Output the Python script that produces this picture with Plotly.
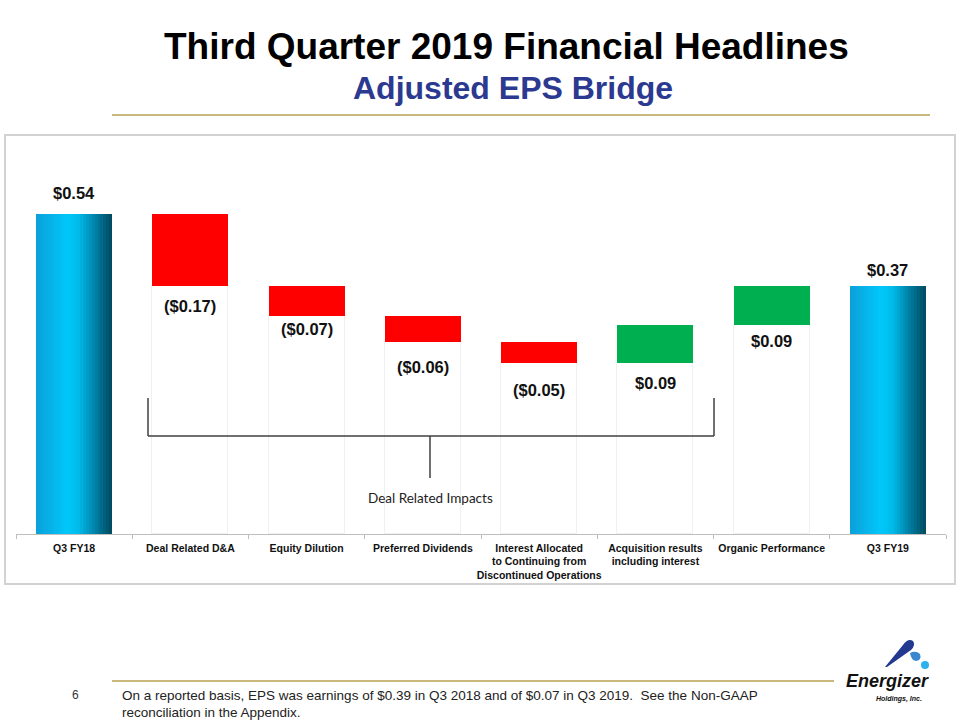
import plotly.graph_objects as go

# ---------------- data ----------------
categories = [
    "Q3 FY18",
    "Deal Related D&A",
    "Equity Dilution",
    "Preferred Dividends",
    "Interest Allocated<br>to Continuing from<br>Discontinued Operations",
    "Acquisition results<br>including interest",
    "Organic Performance",
    "Q3 FY19",
]
measures = ["total", "relative", "relative", "relative", "relative", "relative", "relative", "total"]
values = [0.54, -0.17, -0.07, -0.06, -0.05, 0.09, 0.09, 0.37]
value_labels = ["$0.54", "($0.17)", "($0.07)", "($0.06)", "($0.05)", "$0.09", "$0.09", "$0.37"]

title_text = "Third Quarter 2019 Financial Headlines"
subtitle_text = "Adjusted EPS Bridge"
bracket_text = "Deal Related Impacts"
footnote_lines = [
    "On a reported basis, EPS was earnings of $0.39 in Q3 2018 and of $0.07 in Q3 2019.  See the Non-GAAP",
    "reconciliation in the Appendix.",
]
page_number = "6"

# ---------------- style ----------------
W, H = 960, 720
PL, PR, PT, PB = 16, 946, 140, 534          # plot area in page pixels
PX_PER_UNIT = 425.0
ZERO_PX = 443.5
Y_FLOOR = -(PB - ZERO_PX) / PX_PER_UNIT
Y_TOP = (ZERO_PX - PT) / PX_PER_UNIT
BAR_W = 0.654
RED, GREEN = "#FF0000", "#00B050"
GOLD = "#C9B97C"
LABEL_SHIFT = [21, -20, -13, -25, -27, -20, -16, 16]
ARIAL = "Liberation Sans, Arial, sans-serif"


def px(x):
    return (x - PL) / (PR - PL)


def py(y):
    return (PB - y) / (PB - PT)


# ---------------- waterfall geometry from data ----------------
starts, ends = [], []
running = 0.0
for m, v in zip(measures, values):
    if m == "total":
        starts.append(Y_FLOOR)
        ends.append(v)
        running = v
    else:
        starts.append(running)
        running = running + v
        ends.append(running)

rel_idx = [i for i, m in enumerate(measures) if m == "relative"]
tot_idx = [i for i, m in enumerate(measures) if m == "total"]

fig = go.Figure()

# faint "invisible" support bars under floating bars
fig.add_trace(go.Bar(
    x=[categories[i] for i in rel_idx],
    base=[Y_FLOOR for i in rel_idx],
    y=[min(starts[i], ends[i]) - Y_FLOOR for i in rel_idx],
    width=BAR_W,
    marker=dict(color="rgba(255,255,255,0)", line=dict(color="#F0F0F0", width=1)),
    hoverinfo="skip", showlegend=False,
))

# floating delta bars
fig.add_trace(go.Bar(
    x=[categories[i] for i in rel_idx],
    base=[starts[i] for i in rel_idx],
    y=[values[i] for i in rel_idx],
    width=BAR_W,
    marker=dict(color=[RED if values[i] < 0 else GREEN for i in rel_idx], line=dict(width=0)),
    showlegend=False,
))

# gradient total bars (vertical slices)
stops = [(0.0, (12, 160, 218)), (0.42, (0, 200, 250)), (0.55, (0, 188, 236)),
         (0.78, (0, 128, 165)), (1.0, (0, 72, 94))]


def grad(t):
    for (t0, c0), (t1, c1) in zip(stops[:-1], stops[1:]):
        if t0 <= t <= t1:
            f = (t - t0) / (t1 - t0) if t1 > t0 else 0
            return "rgb(%d,%d,%d)" % tuple(round(a + (b - a) * f) for a, b in zip(c0, c1))
    return "rgb(%d,%d,%d)" % stops[-1][1]


N = 26
sw = BAR_W / N
for k in range(N):
    fig.add_trace(go.Bar(
        x=[categories[i] for i in tot_idx],
        base=[Y_FLOOR for i in tot_idx],
        y=[values[i] - Y_FLOOR for i in tot_idx],
        width=sw * 1.35 if k < N - 1 else sw,
        offset=-BAR_W / 2 + k * sw,
        marker=dict(color=grad((k + 0.5) / N), line=dict(width=0)),
        hoverinfo="skip", showlegend=False,
    ))

annotations = []
for i, lab in enumerate(value_labels):
    yref_val = ends[i] if measures[i] == "total" else min(starts[i], ends[i])
    annotations.append(dict(
        x=categories[i], y=yref_val, xref="x", yref="y", text=lab, showarrow=False,
        yshift=LABEL_SHIFT[i], yanchor="middle",
        font=dict(family=ARIAL, size=16.5, color="#111111", weight="bold"),
    ))

# titles
annotations.append(dict(x=px(506), y=py(47), xref="paper", yref="paper", text=title_text,
                        showarrow=False, xanchor="center", yanchor="middle",
                        font=dict(family=ARIAL, size=37, color="#000000", weight="bold")))
annotations.append(dict(x=px(513), y=py(88), xref="paper", yref="paper", text=subtitle_text,
                        showarrow=False, xanchor="center", yanchor="middle",
                        font=dict(family=ARIAL, size=32, color="#2B3990", weight="bold")))
# bracket label
annotations.append(dict(x=px(430), y=py(498), xref="paper", yref="paper", text=bracket_text,
                        showarrow=False, xanchor="center", yanchor="middle",
                        font=dict(family="Lato, Carlito, Calibri, sans-serif", size=13.5, color="#222222")))
# footer
annotations.append(dict(x=px(75), y=py(695), xref="paper", yref="paper", text=page_number,
                        showarrow=False, xanchor="center", yanchor="middle",
                        font=dict(family=ARIAL, size=12, color="#333333")))
for j, ln in enumerate(footnote_lines):
    annotations.append(dict(x=px(120), y=py(695 + 17 * j), xref="paper", yref="paper", text=ln,
                            showarrow=False, xanchor="left", yanchor="middle",
                            font=dict(family=ARIAL, size=13.5, color="#222222")))
# logo text
annotations.append(dict(x=px(887), y=py(681), xref="paper", yref="paper",
                        text="<b><i>Energizer</i></b>", showarrow=False,
                        xanchor="center", yanchor="middle",
                        font=dict(family=ARIAL, size=18, color="#111111")))
annotations.append(dict(x=px(899), y=py(699), xref="paper", yref="paper",
                        text="<b><i>Holdings, Inc.</i></b>", showarrow=False,
                        xanchor="center", yanchor="middle",
                        font=dict(family=ARIAL, size=7, color="#111111")))


def hline(x0, x1, y, color, width):
    return dict(type="line", xref="paper", yref="paper", x0=px(x0), x1=px(x1),
                y0=py(y), y1=py(y), line=dict(color=color, width=width))


def vline(x, y0, y1, color, width):
    return dict(type="line", xref="paper", yref="paper", x0=px(x), x1=px(x),
                y0=py(y0), y1=py(y1), line=dict(color=color, width=width))


def path(points, close=True):
    s = ""
    for cmd, pts in points:
        s += cmd + " " + " ".join("%.5f %.5f" % (px(a), py(b)) for a, b in pts) + " "
    return s + ("Z" if close else "")


shapes = [
    # chart frame
    dict(type="rect", xref="paper", yref="paper", x0=px(5), x1=px(955), y0=py(135), y1=py(584),
         line=dict(color="#D2D2D2", width=2), layer="below"),
    # gold rules
    hline(112, 930, 115, GOLD, 2),
    hline(112, 834, 681, GOLD, 2),
    # bracket
    hline(148, 714, 436, "#404040", 1.5),
    vline(148, 398, 436, "#404040", 1.5),
    vline(714, 398, 436, "#404040", 1.5),
    vline(430, 436, 478, "#404040", 1.5),
    # logo marks
    dict(type="path", xref="paper", yref="paper",
         path=path([("M", [(885, 667)]), ("L", [(903, 645)]), ("Q", [(908, 638), (913, 641)]),
                    ("Q", [(916, 645), (911, 650)]), ("L", [(887, 667)])]),
         fillcolor="#22398F", line=dict(width=0)),
    dict(type="path", xref="paper", yref="paper",
         path=path([("M", [(910, 653)]), ("Q", [(916, 650), (920, 654)]),
                    ("Q", [(922, 660), (916, 661)]), ("Q", [(911, 660), (910, 653)])]),
         fillcolor="#3A86CF", line=dict(width=0)),
    dict(type="circle", xref="paper", yref="paper", x0=px(921), x1=px(929), y0=py(661), y1=py(669),
         fillcolor="#2DB2EE", line=dict(width=0)),
]

fig.update_layout(
    width=W, height=H,
    margin=dict(l=PL, r=W - PR, t=PT, b=H - PB, autoexpand=False),
    paper_bgcolor="white", plot_bgcolor="white",
    barmode="overlay", bargap=0,
    showlegend=False,
    annotations=annotations,
    shapes=shapes,
    xaxis=dict(
        type="category", categoryorder="array", categoryarray=categories,
        range=[-0.5, len(categories) - 0.5],
        showline=True, linecolor="#BFBFBF", linewidth=1,
        ticks="outside", tickson="boundaries", ticklen=4, tickcolor="#BFBFBF",
        tickangle=0, automargin=False, ticklabelstandoff=4,
        showgrid=False, zeroline=False,
        tickfont=dict(family=ARIAL, size=10.5, color="#111111", weight="bold"),
        fixedrange=True,
    ),
    yaxis=dict(visible=False, range=[Y_FLOOR, Y_TOP], showgrid=False, zeroline=False, fixedrange=True),
)

fig.write_html("out.html", config={"displayModeBar": False},
               post_script="document.body.style.margin='0px';document.body.style.overflow='hidden';")
